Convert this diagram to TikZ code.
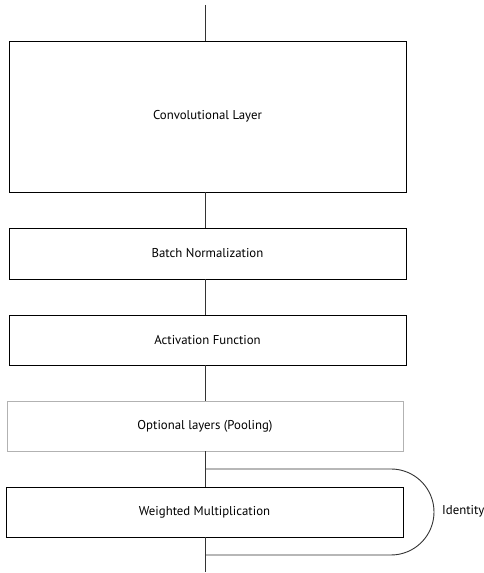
\documentclass[tikz,border=0pt]{standalone}
\usepackage{fontspec}
\setmainfont{PT Sans}
\begin{document}
\begin{tikzpicture}[x=1pt,y=1pt,
  lbl/.style={font=\fontsize{12.8}{15}\selectfont},
  layerbox/.style={draw=black,line width=0.9pt,minimum height=50pt,inner sep=0pt,lbl},
  optbox/.style={draw=black!30,line width=0.9pt,minimum height=50pt,inner sep=0pt,lbl},
  conn/.style={draw=black!80,line width=0.9pt}]
\useasboundingbox (0,0) rectangle (484,573);
\node[layerbox,minimum width=397pt,minimum height=151pt] (conv) at (207.5,456.5) {Convolutional Layer};
\node[layerbox,minimum width=397pt,minimum height=51pt] (bn) at (207.5,319.5) {Batch Normalization};
\node[layerbox,minimum width=397pt] (act) at (207.5,233) {Activation Function};
\node[optbox,minimum width=396pt] (opt) at (205,147) {Optional layers (Pooling)};
\node[layerbox,minimum width=397pt] (wm) at (204.5,61) {Weighted Multiplication};
\coordinate (top) at (205,568);
\coordinate (bot) at (205,1);
\coordinate (s) at (205,104);
\coordinate (e) at (205,18);
\draw[conn] (top) -- (conv.north -| top);
\draw[conn] (conv.south -| top) -- (bn.north -| top);
\draw[conn] (bn.south -| top) -- (act.north -| top);
\draw[conn] (act.south -| top) -- (opt.north -| top);
\draw[conn] (opt.south -| top) -- (wm.north -| top);
\draw[conn] (wm.south -| top) -- (bot);
\draw[conn] (s) -- (391,104) arc[start angle=90,end angle=-90,radius=43] -- (e);
\node[anchor=west,inner sep=0pt,lbl] (id) at (442,62) {Identity};
\end{tikzpicture}
\end{document}
